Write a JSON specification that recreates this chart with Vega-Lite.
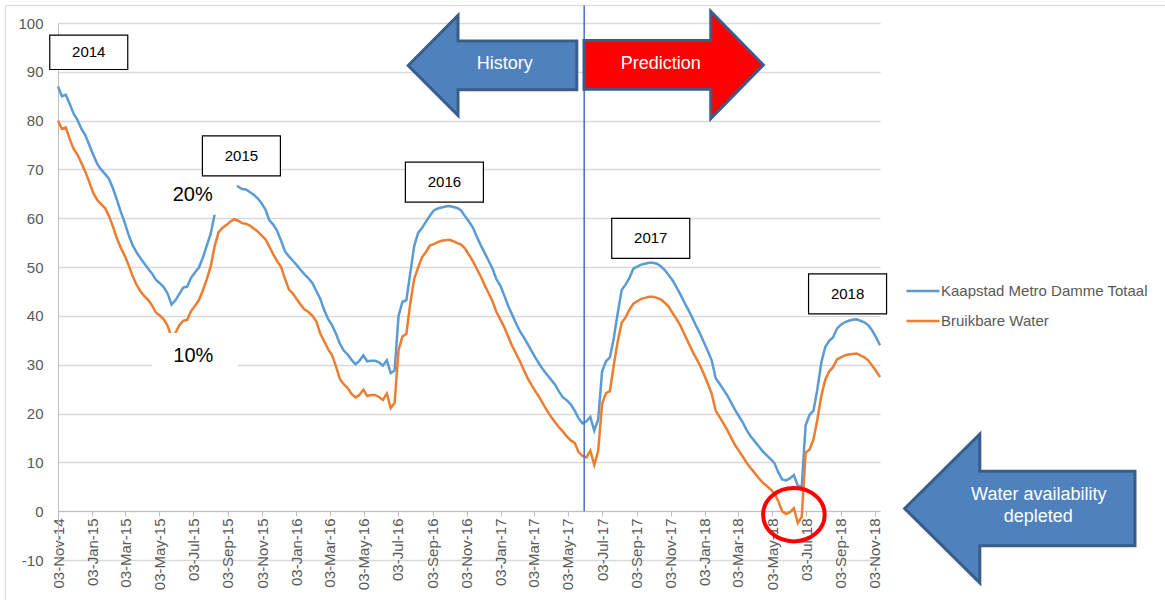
{
  "$schema": "https://vega.github.io/schema/vega-lite/v6.json",
  "width": 822,
  "height": 537,
  "autosize": {"type": "none"},
  "padding": {"left": 58, "top": 23, "right": 285, "bottom": 40},
  "background": "white",
  "config": {"view": {"stroke": null}, "font": "Liberation Sans"},
  "datasets": {
    "series": [
      {"d":"2014-11-03","a":87.0,"b":80.0},{"d":"2014-11-10","a":85.0,"b":78.3},{"d":"2014-11-17","a":85.3,"b":78.6},{"d":"2014-11-24","a":83.4,"b":76.2},
      {"d":"2014-12-01","a":81.4,"b":74.2},{"d":"2014-12-08","a":80.1,"b":73.0},{"d":"2014-12-15","a":78.3,"b":71.3},{"d":"2014-12-22","a":77.0,"b":69.5},{"d":"2014-12-29","a":75.0,"b":67.4},
      {"d":"2015-01-05","a":73.0,"b":65.2},{"d":"2015-01-12","a":71.2,"b":63.8},{"d":"2015-01-19","a":70.0,"b":62.9},{"d":"2015-01-26","a":69.1,"b":62.1},
      {"d":"2015-02-02","a":68.1,"b":60.5},{"d":"2015-02-09","a":66.2,"b":58.4},{"d":"2015-02-16","a":63.9,"b":56.0},{"d":"2015-02-23","a":61.4,"b":54.0},
      {"d":"2015-03-02","a":59.2,"b":52.4},{"d":"2015-03-09","a":56.7,"b":50.5},{"d":"2015-03-16","a":54.6,"b":48.3},{"d":"2015-03-23","a":53.1,"b":46.5},{"d":"2015-03-30","a":51.9,"b":45.1},
      {"d":"2015-04-06","a":50.8,"b":44.1},{"d":"2015-04-13","a":49.7,"b":43.3},{"d":"2015-04-20","a":48.7,"b":42.2},{"d":"2015-04-27","a":47.4,"b":40.7},
      {"d":"2015-05-04","a":46.7,"b":40.1},{"d":"2015-05-11","a":45.9,"b":39.3},{"d":"2015-05-18","a":44.6,"b":38.0},{"d":"2015-05-25","a":42.3,"b":35.6},
      {"d":"2015-06-01","a":43.2,"b":36.5},{"d":"2015-06-08","a":44.5,"b":38.1},{"d":"2015-06-15","a":45.8,"b":39.0},{"d":"2015-06-22","a":46.0,"b":39.2},{"d":"2015-06-29","a":47.8,"b":41.0},
      {"d":"2015-07-06","a":48.9,"b":42.1},{"d":"2015-07-13","a":49.9,"b":43.2},{"d":"2015-07-20","a":51.9,"b":45.2},{"d":"2015-07-27","a":54.4,"b":47.5},
      {"d":"2015-08-03","a":56.8,"b":50.1},{"d":"2015-08-10","a":60.7,"b":54.2},{"d":"2015-08-17","a":63.5,"b":57.1},{"d":"2015-08-24","a":65.2,"b":58.0},{"d":"2015-08-31","a":66.3,"b":58.6},
      {"d":"2015-09-07","a":66.8,"b":59.3},{"d":"2015-09-14","a":66.8,"b":59.8},{"d":"2015-09-21","a":66.5,"b":59.5},{"d":"2015-09-28","a":66.0,"b":59.0},
      {"d":"2015-10-05","a":65.9,"b":58.9},{"d":"2015-10-12","a":65.4,"b":58.5},{"d":"2015-10-19","a":64.8,"b":57.9},{"d":"2015-10-26","a":64.1,"b":57.3},
      {"d":"2015-11-02","a":63.1,"b":56.5},{"d":"2015-11-09","a":61.8,"b":55.7},{"d":"2015-11-16","a":59.6,"b":54.2},{"d":"2015-11-23","a":58.7,"b":52.6},{"d":"2015-11-30","a":57.4,"b":51.2},
      {"d":"2015-12-07","a":55.4,"b":50.0},{"d":"2015-12-14","a":53.2,"b":47.6},{"d":"2015-12-21","a":52.2,"b":45.4},{"d":"2015-12-28","a":51.3,"b":44.6},
      {"d":"2016-01-04","a":50.4,"b":43.4},{"d":"2016-01-11","a":49.4,"b":42.3},{"d":"2016-01-18","a":48.5,"b":41.3},{"d":"2016-01-25","a":47.7,"b":40.8},
      {"d":"2016-02-01","a":46.7,"b":40.0},{"d":"2016-02-08","a":45.1,"b":38.9},{"d":"2016-02-15","a":43.5,"b":36.4},{"d":"2016-02-22","a":41.2,"b":34.8},{"d":"2016-02-29","a":39.4,"b":33.2},
      {"d":"2016-03-07","a":38.1,"b":32.0},{"d":"2016-03-14","a":36.4,"b":29.7},{"d":"2016-03-21","a":34.3,"b":27.1},{"d":"2016-03-28","a":32.9,"b":26.0},
      {"d":"2016-04-04","a":32.1,"b":25.2},{"d":"2016-04-11","a":31.0,"b":24.0},{"d":"2016-04-18","a":30.1,"b":23.3},{"d":"2016-04-25","a":30.8,"b":23.8},
      {"d":"2016-05-02","a":31.9,"b":24.9},{"d":"2016-05-09","a":30.7,"b":23.6},{"d":"2016-05-16","a":30.8,"b":23.8},{"d":"2016-05-23","a":30.8,"b":23.8},{"d":"2016-05-30","a":30.5,"b":23.4},
      {"d":"2016-06-06","a":29.8,"b":22.8},{"d":"2016-06-13","a":30.9,"b":24.1},{"d":"2016-06-20","a":28.3,"b":21.1},{"d":"2016-06-27","a":28.8,"b":22.2},
      {"d":"2016-07-04","a":40.0,"b":33.0},{"d":"2016-07-11","a":42.9,"b":35.8},{"d":"2016-07-18","a":43.2,"b":36.3},{"d":"2016-07-25","a":48.8,"b":42.6},
      {"d":"2016-08-01","a":54.3,"b":47.6},{"d":"2016-08-08","a":57.0,"b":49.9},{"d":"2016-08-15","a":58.0,"b":52.0},{"d":"2016-08-22","a":59.3,"b":53.1},{"d":"2016-08-29","a":60.5,"b":54.4},
      {"d":"2016-09-05","a":61.6,"b":54.7},{"d":"2016-09-12","a":62.0,"b":55.1},{"d":"2016-09-19","a":62.2,"b":55.4},{"d":"2016-09-26","a":62.4,"b":55.5},
      {"d":"2016-10-03","a":62.5,"b":55.6},{"d":"2016-10-10","a":62.3,"b":55.3},{"d":"2016-10-17","a":62.1,"b":54.9},{"d":"2016-10-24","a":61.6,"b":54.6},{"d":"2016-10-31","a":60.4,"b":53.8},
      {"d":"2016-11-07","a":59.3,"b":52.5},{"d":"2016-11-14","a":58.1,"b":51.2},{"d":"2016-11-21","a":56.2,"b":49.6},{"d":"2016-11-28","a":54.5,"b":48.1},
      {"d":"2016-12-05","a":52.9,"b":46.3},{"d":"2016-12-12","a":51.3,"b":44.7},{"d":"2016-12-19","a":49.7,"b":43.0},{"d":"2016-12-26","a":47.5,"b":40.8},
      {"d":"2017-01-02","a":46.2,"b":39.3},{"d":"2017-01-09","a":44.2,"b":37.7},{"d":"2017-01-16","a":42.1,"b":35.8},{"d":"2017-01-23","a":40.3,"b":33.9},{"d":"2017-01-30","a":38.5,"b":32.3},
      {"d":"2017-02-06","a":36.9,"b":30.7},{"d":"2017-02-13","a":35.6,"b":28.9},{"d":"2017-02-20","a":34.2,"b":27.2},{"d":"2017-02-27","a":32.8,"b":25.8},
      {"d":"2017-03-06","a":31.4,"b":24.5},{"d":"2017-03-13","a":30.1,"b":23.3},{"d":"2017-03-20","a":28.9,"b":21.9},{"d":"2017-03-27","a":27.9,"b":20.5},
      {"d":"2017-04-03","a":26.9,"b":19.3},{"d":"2017-04-10","a":25.9,"b":18.2},{"d":"2017-04-17","a":24.5,"b":17.2},{"d":"2017-04-24","a":23.3,"b":16.3},
      {"d":"2017-05-01","a":22.7,"b":15.3},{"d":"2017-05-08","a":21.9,"b":14.5},{"d":"2017-05-15","a":20.6,"b":14.0},{"d":"2017-05-22","a":19.0,"b":12.1},{"d":"2017-05-29","a":18.0,"b":11.3},
      {"d":"2017-06-05","a":18.4,"b":11.0},{"d":"2017-06-12","a":19.3,"b":12.4},{"d":"2017-06-19","a":16.5,"b":9.5},{"d":"2017-06-26","a":18.8,"b":12.3},
      {"d":"2017-07-03","a":28.6,"b":22.0},{"d":"2017-07-10","a":30.7,"b":24.2},{"d":"2017-07-17","a":31.5,"b":24.6},{"d":"2017-07-24","a":35.5,"b":30.0},{"d":"2017-07-31","a":40.6,"b":34.8},
      {"d":"2017-08-07","a":45.3,"b":38.6},{"d":"2017-08-14","a":46.4,"b":39.7},{"d":"2017-08-21","a":47.8,"b":41.3},{"d":"2017-08-28","a":49.7,"b":42.5},
      {"d":"2017-09-04","a":50.1,"b":43.0},{"d":"2017-09-11","a":50.5,"b":43.5},{"d":"2017-09-18","a":50.7,"b":43.7},{"d":"2017-09-25","a":50.9,"b":43.9},
      {"d":"2017-10-02","a":50.9,"b":43.9},{"d":"2017-10-09","a":50.7,"b":43.7},{"d":"2017-10-16","a":50.2,"b":43.4},{"d":"2017-10-23","a":49.4,"b":42.7},{"d":"2017-10-30","a":48.4,"b":41.9},
      {"d":"2017-11-06","a":47.3,"b":40.6},{"d":"2017-11-13","a":45.9,"b":39.4},{"d":"2017-11-20","a":44.4,"b":38.0},{"d":"2017-11-27","a":42.8,"b":36.3},
      {"d":"2017-12-04","a":41.3,"b":34.6},{"d":"2017-12-11","a":39.7,"b":32.9},{"d":"2017-12-18","a":38.0,"b":31.4},{"d":"2017-12-25","a":36.4,"b":29.9},
      {"d":"2018-01-01","a":34.6,"b":28.1},{"d":"2018-01-08","a":32.8,"b":26.1},{"d":"2018-01-15","a":30.9,"b":24.1},{"d":"2018-01-22","a":27.3,"b":20.6},{"d":"2018-01-29","a":26.1,"b":19.3},
      {"d":"2018-02-05","a":24.9,"b":18.0},{"d":"2018-02-12","a":23.7,"b":16.6},{"d":"2018-02-19","a":22.2,"b":15.0},{"d":"2018-02-26","a":20.7,"b":13.5},
      {"d":"2018-03-05","a":19.4,"b":12.3},{"d":"2018-03-12","a":18.1,"b":11.1},{"d":"2018-03-19","a":16.5,"b":9.8},{"d":"2018-03-26","a":15.3,"b":8.8},
      {"d":"2018-04-02","a":14.3,"b":7.8},{"d":"2018-04-09","a":13.3,"b":6.8},{"d":"2018-04-16","a":12.3,"b":5.9},{"d":"2018-04-23","a":11.5,"b":5.2},{"d":"2018-04-30","a":10.7,"b":4.5},
      {"d":"2018-05-07","a":9.9,"b":3.7},{"d":"2018-05-14","a":8.0,"b":2.1},{"d":"2018-05-21","a":6.5,"b":0.0},{"d":"2018-05-28","a":6.3,"b":-0.6},
      {"d":"2018-06-04","a":6.7,"b":-0.2},{"d":"2018-06-11","a":7.4,"b":0.6},{"d":"2018-06-18","a":5.2,"b":-2.4},{"d":"2018-06-25","a":5.0,"b":-1.2},
      {"d":"2018-07-02","a":17.6,"b":12.0},{"d":"2018-07-09","a":19.7,"b":12.6},{"d":"2018-07-16","a":20.6,"b":14.7},{"d":"2018-07-23","a":25.0,"b":18.8},{"d":"2018-07-30","a":30.4,"b":23.6},
      {"d":"2018-08-06","a":33.6,"b":26.9},{"d":"2018-08-13","a":34.9,"b":28.6},{"d":"2018-08-20","a":35.6,"b":29.5},{"d":"2018-08-27","a":37.4,"b":31.1},
      {"d":"2018-09-03","a":38.2,"b":31.5},{"d":"2018-09-10","a":38.7,"b":31.9},{"d":"2018-09-17","a":39.0,"b":32.1},{"d":"2018-09-24","a":39.2,"b":32.2},
      {"d":"2018-10-01","a":39.3,"b":32.3},{"d":"2018-10-08","a":39.0,"b":31.9},{"d":"2018-10-15","a":38.7,"b":31.5},{"d":"2018-10-22","a":38.1,"b":30.9},{"d":"2018-10-29","a":37.0,"b":29.8},
      {"d":"2018-11-05","a":35.6,"b":28.7},{"d":"2018-11-12","a":34.0,"b":27.5}
    ],
    "divider": [{"d":"2017-06-01","v":0,"v2":103.6}],
    "frameV": [{"d":"2014-08-01","v":-30,"v2":103.6}],
    "frameH": [{"d":"2014-08-01","d2":"2020-06-01","v":103.6}],
    "masks": [{"d":"2015-07-04","v":65.0},{"d":"2015-07-06","v":32.2}],
    "pct": [{"d":"2015-07-02","v":64.7,"t":"20%"},{"d":"2015-07-03","v":31.7,"t":"10%"}],
    "years": [{"d":"2015-09-27","v":72.8,"t":"2015"},{"d":"2016-09-24","v":67.4,"t":"2016"},{"d":"2017-09-28","v":55.9,"t":"2017"},{"d":"2018-09-15","v":44.5,"t":"2018"}],
    "year0": [{"d":"2014-12-28","v":94.0,"t":"2014"}],
    "histArrow": [{"d":"2016-12-19","v":91.3}],
    "predArrow": [{"d":"2017-11-08","v":91.4}],
    "waterArrow": [{"d":"2019-07-20","v":0.55}],
    "arrowText": [{"d":"2017-01-10","v":91.7,"t":"History"},{"d":"2017-10-16","v":91.7,"t":"Prediction"},{"d":"2019-08-23","v":3.3,"t":"Water availability"},{"d":"2019-08-22","v":-1.1,"t":"depleted"}],
    "ring": [{"d":"2018-06-11","v":-0.72}]
  },
  "encoding": {
    "x": {
      "field": "d", "type": "temporal",
      "scale": {"type": "utc", "domain": [{"year":2014,"month":11,"date":3,"utc":true},{"year":2018,"month":11,"date":12,"utc":true}]},
      "axis": {
        "title": null, "grid": false, "offset": -49,
        "values": [
          {"year":2014,"month":11,"date":3,"utc":true},
          {"year":2015,"month":1,"date":3,"utc":true},{"year":2015,"month":3,"date":3,"utc":true},{"year":2015,"month":5,"date":3,"utc":true},{"year":2015,"month":7,"date":3,"utc":true},{"year":2015,"month":9,"date":3,"utc":true},{"year":2015,"month":11,"date":3,"utc":true},
          {"year":2016,"month":1,"date":3,"utc":true},{"year":2016,"month":3,"date":3,"utc":true},{"year":2016,"month":5,"date":3,"utc":true},{"year":2016,"month":7,"date":3,"utc":true},{"year":2016,"month":9,"date":3,"utc":true},{"year":2016,"month":11,"date":3,"utc":true},
          {"year":2017,"month":1,"date":3,"utc":true},{"year":2017,"month":3,"date":3,"utc":true},{"year":2017,"month":5,"date":3,"utc":true},{"year":2017,"month":7,"date":3,"utc":true},{"year":2017,"month":9,"date":3,"utc":true},{"year":2017,"month":11,"date":3,"utc":true},
          {"year":2018,"month":1,"date":3,"utc":true},{"year":2018,"month":3,"date":3,"utc":true},{"year":2018,"month":5,"date":3,"utc":true},{"year":2018,"month":7,"date":3,"utc":true},{"year":2018,"month":9,"date":3,"utc":true},{"year":2018,"month":11,"date":3,"utc":true}
        ],
        "labelExpr": "utcFormat(datum.value, '%d-%b-%y')",
        "labelAngle": -90, "labelOverlap": false, "labelFlush": false, "labelLimit": 200,
        "labelFont": "Liberation Sans", "labelFontSize": 15, "labelColor": "#595959", "labelPadding": 2,
        "domainColor": "#BFBFBF", "domainWidth": 1, "tickColor": "#BFBFBF", "tickSize": 5, "tickWidth": 1
      }
    },
    "y": {
      "field": "v", "type": "quantitative",
      "scale": {"domain": [-10, 100], "nice": false, "zero": false},
      "axis": {
        "title": null, "values": [-10,0,10,20,30,40,50,60,70,80,90,100],
        "labelExpr": "'' + datum.value",
        "grid": true, "gridColor": "#D9D9D9", "gridWidth": 1.3,
        "domain": true, "domainColor": "#BFBFBF", "ticks": false, "tickSize": 0,
        "labelPadding": 15, "labelFont": "Liberation Sans", "labelFontSize": 15, "labelColor": "#595959"
      }
    }
  },
  "layer": [
    {"data": {"name": "frameV"}, "mark": {"type": "rule", "color": "#D9D9D9", "strokeWidth": 1}, "encoding": {"y2": {"field": "v2"}}},
    {"data": {"name": "frameH"}, "mark": {"type": "rule", "color": "#D9D9D9", "strokeWidth": 1}, "encoding": {"x2": {"field": "d2"}}},
    {
      "data": {"name": "series"},
      "transform": [{"fold": ["a", "b"], "as": ["s", "v"]}],
      "mark": {"type": "line", "strokeWidth": 2.5},
      "encoding": {
        "color": {
          "field": "s", "type": "nominal",
          "scale": {"domain": ["a", "b"], "range": ["#5B9BD5", "#ED7D31"]},
          "legend": {
            "orient": "none", "legendX": 847, "legendY": 250, "title": null, "padding": 0,
            "symbolType": "stroke", "symbolSize": 1089, "symbolStrokeWidth": 2.5,
            "labelFont": "Liberation Sans", "labelFontSize": 15, "labelColor": "#595959", "labelOffset": 0, "labelLimit": 300,
            "rowPadding": 4,
            "labelExpr": "datum.label == 'a' ? 'Kaapstad Metro Damme Totaal' : 'Bruikbare Water'"
          }
        }
      }
    },
    {"data": {"name": "divider"}, "mark": {"type": "rule", "color": "#4472C4", "strokeWidth": 1.5}, "encoding": {"y2": {"field": "v2"}}},
    {"data": {"name": "masks"}, "mark": {"type": "point", "shape": "M-1,-0.488 L1,-0.488 L1,0.488 L-1,0.488 Z", "size": 7396, "filled": true, "fill": "white", "opacity": 1, "strokeWidth": 0}},
    {"data": {"name": "pct"}, "mark": {"type": "text", "font": "Liberation Sans", "fontSize": 20, "color": "#000000", "align": "center", "baseline": "middle"}, "encoding": {"text": {"field": "t"}}},
    {"data": {"name": "years"}, "mark": {"type": "point", "shape": "M-1,-0.513 L1,-0.513 L1,0.513 L-1,0.513 Z", "size": 6084, "filled": true, "fill": "white", "stroke": "#000000", "strokeWidth": 1.2, "opacity": 1}},
    {"data": {"name": "year0"}, "mark": {"type": "point", "shape": "M-1,-0.441 L1,-0.441 L1,0.441 L-1,0.441 Z", "size": 6084, "filled": true, "fill": "white", "stroke": "#000000", "strokeWidth": 1.2, "opacity": 1}},
    {"data": {"name": "years"}, "mark": {"type": "text", "font": "Liberation Sans", "fontSize": 15, "color": "#000000", "align": "center", "baseline": "middle"}, "encoding": {"text": {"field": "t"}}},
    {"data": {"name": "year0"}, "mark": {"type": "text", "font": "Liberation Sans", "fontSize": 15, "color": "#000000", "align": "center", "baseline": "middle"}, "encoding": {"text": {"field": "t"}}},
    {"data": {"name": "histArrow"}, "mark": {"type": "point", "shape": "M-1,0 L-0.409,-0.593 L-0.409,-0.289 L1,-0.289 L1,0.289 L-0.409,0.289 L-0.409,0.593 Z", "size": 28426, "filled": true, "fill": "#4F81BD", "stroke": "#385D8A", "strokeWidth": 3, "opacity": 1}},
    {"data": {"name": "predArrow"}, "mark": {"type": "point", "shape": "M-1,-0.272 L0.414,-0.272 L0.414,-0.597 L1,0 L0.414,0.597 L0.414,0.272 L-1,0.272 Z", "size": 32148, "filled": true, "fill": "#FF0000", "stroke": "#385D8A", "strokeWidth": 3, "opacity": 1}},
    {"data": {"name": "waterArrow"}, "mark": {"type": "point", "shape": "M-1,0 L-0.347,-0.645 L-0.347,-0.324 L1,-0.324 L1,0.324 L-0.347,0.324 L-0.347,0.645 Z", "size": 53084, "filled": true, "fill": "#4F81BD", "stroke": "#385D8A", "strokeWidth": 3, "opacity": 1}},
    {"data": {"name": "arrowText"}, "mark": {"type": "text", "font": "Liberation Sans", "fontSize": 18, "color": "#FFFFFF", "align": "center", "baseline": "middle"}, "encoding": {"text": {"field": "t"}}},
    {"data": {"name": "ring"}, "mark": {"type": "point", "shape": "M-1,0 A1,0.867 0 1,1 1,0 A1,0.867 0 1,1 -1,0 Z", "size": 3795, "filled": false, "stroke": "#FF0000", "strokeWidth": 4, "opacity": 1}}
  ]
}
